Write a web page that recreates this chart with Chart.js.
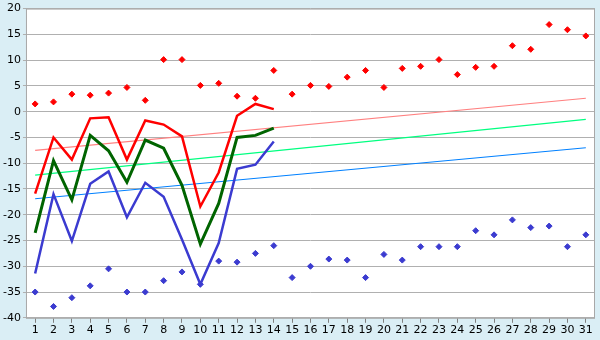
<!DOCTYPE html>
<html>
<head>
<meta charset="utf-8">
<script src="https://cdn.jsdelivr.net/npm/chart.js@4"></script>
<style>
  html, body { margin: 0; padding: 0; background: #daeef5; }
  #wrap { width: 600px; height: 340px; }
</style>
</head>
<body>
<div id="wrap"><canvas id="grafico"></canvas></div>
<script>
// Dias do mês
const dias = [];
for (let d = 1; d <= 31; d++) dias.push(String(d));

// Máximas e mínimas (pontos)
const maximas = [1.5, 1.9, 3.4, 3.2, 3.6, 4.7, 2.2, 10.1, 10.1, 5.1, 5.5, 3.0, 2.6, 8.0, 3.4,
  5.1, 4.9, 6.7, 8.0, 4.7, 8.4, 8.8, 10.1, 7.2, 8.6, 8.8, 12.8, 12.1, 16.9, 15.9, 14.7];
const minimas = [-35.0, -37.8, -36.1, -33.8, -30.5, -35.0, -35.0, -32.8, -31.1, -33.5, -29.0, -29.2, -27.5, -26.0, -32.2,
  -30.0, -28.6, -28.8, -32.2, -27.7, -28.8, -26.2, -26.2, -26.2, -23.1, -23.9, -21.0, -22.5, -22.2, -26.2, -23.9];

// Linhas (dias 1 a 14)
const linhaMax = [-15.9, -5.0, -9.3, -1.3, -1.1, -9.3, -1.7, -2.5, -4.8, -18.4, -11.8, -0.8, 1.5, 0.5];
const linhaMedia = [-23.5, -9.5, -17.1, -4.6, -7.6, -13.7, -5.5, -7.1, -14.3, -25.7, -17.8, -5.0, -4.6, -3.2];
const linhaMin = [-31.4, -16.0, -25.1, -14.0, -11.6, -20.5, -13.8, -16.5, -24.8, -33.5, -25.5, -11.1, -10.3, -5.8];

// Tendências (início e fim)
const tendMax = [-7.5, 2.6];
const tendMedia = [-12.3, -1.5];
const tendMin = [-16.9, -7.0];

function tendencia(ini, fim) {
  const arr = new Array(31).fill(null);
  arr[0] = ini;
  arr[30] = fim;
  return arr;
}

const fundo = {
  id: "fundo",
  beforeDraw(chart) {
    const ctx = chart.ctx;
    const a = chart.chartArea;
    ctx.save();
    ctx.fillStyle = "#daeef5";
    ctx.fillRect(0, 0, chart.width, chart.height);
    ctx.fillStyle = "#ffffff";
    ctx.fillRect(a.left, a.top, a.right - a.left, a.bottom - a.top);
    ctx.restore();
  },
  afterDatasetsDraw(chart) {
    const ctx = chart.ctx;
    const a = chart.chartArea;
    ctx.save();
    ctx.strokeStyle = "#a8a8a8";
    ctx.lineWidth = 1;
    ctx.strokeRect(a.left + 0.5, a.top + 0.5, a.right - a.left - 1, a.bottom - a.top);
    ctx.restore();
  }
};

const ctx = document.getElementById("grafico").getContext("2d");
new Chart(ctx, {
  type: "line",
  data: {
    labels: dias,
    datasets: [
      { data: maximas, showLine: false, pointStyle: "rectRot", pointRadius: 3,
        backgroundColor: "#ff0000", borderColor: "#ff0000", borderWidth: 1, order: 1 },
      { data: minimas, showLine: false, pointStyle: "rectRot", pointRadius: 3,
        backgroundColor: "#3b3bd0", borderColor: "#3b3bd0", borderWidth: 1, order: 1 },
      { data: linhaMax, borderColor: "#ff0000", borderWidth: 2.5, pointRadius: 0, order: 2 },
      { data: linhaMedia, borderColor: "#006400", borderWidth: 3, pointRadius: 0, order: 2 },
      { data: linhaMin, borderColor: "#3b3bd0", borderWidth: 2.5, pointRadius: 0, order: 2 },
      { data: tendencia(tendMax[0], tendMax[1]), borderColor: "#ff8080", borderWidth: 1.2, pointRadius: 0, spanGaps: true, order: 3 },
      { data: tendencia(tendMedia[0], tendMedia[1]), borderColor: "#00ff80", borderWidth: 1.2, pointRadius: 0, spanGaps: true, order: 3 },
      { data: tendencia(tendMin[0], tendMin[1]), borderColor: "#0080ff", borderWidth: 1.2, pointRadius: 0, spanGaps: true, order: 3 }
    ]
  },
  options: {
    responsive: true,
    maintainAspectRatio: false,
    animation: false,
    layout: { padding: { top: 1, right: 4, left: 1, bottom: 2 } },
    plugins: { legend: { display: false }, tooltip: { enabled: false } },
    elements: { line: { tension: 0 } },
    scales: {
      x: {
        offset: true,
        grid: { drawOnChartArea: false, drawTicks: true, tickLength: 5, color: "#808080", offset: false },
        border: { display: false },
        ticks: { color: "#000", font: { family: "DejaVu Sans", size: 11 }, padding: 1, maxRotation: 0, autoSkip: false }
      },
      y: {
        min: -40, max: 20,
        grid: { color: "#b0b0b0", lineWidth: 1, tickLength: 3 },
        border: { display: false },
        ticks: { stepSize: 5, color: "#000", font: { family: "DejaVu Sans", size: 11 }, padding: 2 }
      }
    }
  },
  plugins: [fundo]
});
</script>
</body>
</html>
